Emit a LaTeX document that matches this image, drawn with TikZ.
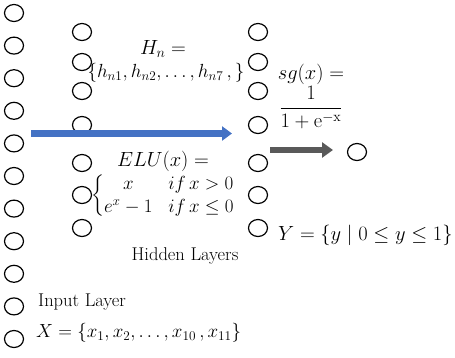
\RequirePackage{fix-cm}
\documentclass[tikz,border=0pt]{standalone}
\usepackage{amsmath}
\usepackage{tikz}
\usetikzlibrary{arrows.meta, positioning, shapes.geometric}
\definecolor{arrowblue}{RGB}{68,114,196}
\definecolor{arrowgray}{RGB}{89,89,89}
\tikzset{%
   % one unit of a layer
   neuron/.style={
      ellipse,
      draw,
      line width=1.2pt,
      inner sep=0pt,
      minimum width=19pt,
      minimum height=17pt
   },
   lbl/.style={inner sep=0pt, font=\fontsize{18.5}{22}\selectfont},
   mth/.style={inner sep=0pt, font=\fontsize{20.5}{24}\selectfont},
   smth/.style={inner sep=0pt, font=\fontsize{19}{23}\selectfont},
   bigarrow/.style={
      draw=arrowblue,
      line width=6.5pt,
      -{Triangle[length=10pt, width=14pt]}
   },
   outarrow/.style={
      draw=arrowgray,
      line width=5.5pt,
      -{Triangle[length=11pt, width=15pt]}
   },
}

\begin{document}
\begin{tikzpicture}[x=1pt, y=-1pt]
   \useasboundingbox (0,0) rectangle (455,357);
   % input layer
   \foreach \i in {0,...,10}
      \node[neuron] (in\i) at (14, 13+32.6*\i) {};
   % hidden layers
   \foreach \i/\yy in {1/32, 2/62, 3/91, 4/125, 5/163, 6/195, 7/228} {
      \node[neuron] (ha\i) at (82,\yy) {};
      \node[neuron] (hb\i) at (258,\yy) {};
   }
   \node[neuron] (out) at (357,152) {};

   \node[mth] (hn) at (163,49) {$H_n =$};
   \node[smth] (hset) at (166,73) {$\{h_{n1}, h_{n2}, \dots, h_{n7}\,,\}$};
   \node[mth] (sg) at (311,74) {$sg(x) =$};
   \node[mth, below=2pt of sg] (sgfrac) {$\dfrac{1}{1+\mathrm{e}^{-\mathrm{x}}}$};
   \node[mth] (elu) at (163,161) {$ELU(x) =$};
   \node[smth] (cases) at (163,196)
      {$\left\{\begin{array}{@{}c@{\;\;\;}l@{}} x & if\, x>0\\ e^x-1 & if\, x\le 0\end{array}\right.$};
   \node[mth, anchor=west] (yset) at (278,235) {$Y = \{y \mid 0 \le y \le 1\}$};
   \node[lbl] (hid) at (185,256) {Hidden Layers};
   \node[lbl, anchor=west] (inp) at (38,302) {Input Layer};
   \node[smth, anchor=west] (xset) at (36,333) {$X = \{x_1, x_2, \dots, x_{10}\,, x_{11}\}$};

   \coordinate (bstart) at (31,133.5);
   \coordinate (bend) at (232,133.5);
   \draw[bigarrow] (bstart) -- (bend);
   \coordinate (gstart) at (270,150);
   \coordinate (gend) at (333,150);
   \draw[outarrow] (gstart) -- (gend);
\end{tikzpicture}
\end{document}
